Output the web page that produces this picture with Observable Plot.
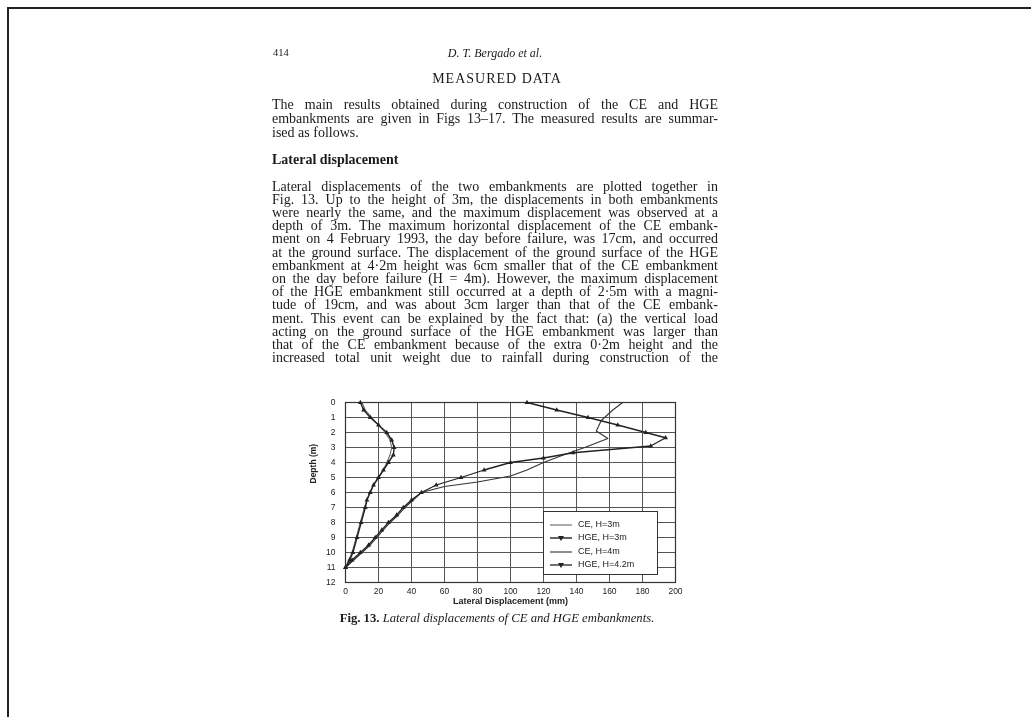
<!DOCTYPE html>
<html>
<head>
<meta charset="utf-8">
<script src="https://cdn.jsdelivr.net/npm/d3@7"></script>
<script src="https://cdn.jsdelivr.net/npm/@observablehq/plot@0.6"></script>
<style>
  html, body { margin: 0; padding: 0; background: #fff; }
  body { width: 1031px; height: 717px; position: relative; overflow: hidden; filter: blur(0.45px); }
  .page { position: absolute; left: 7px; top: 7px; width: 1100px; height: 800px;
          border-top: 2px solid #222; border-left: 2px solid #222; }
  .t { position: absolute; font-family: "Liberation Serif", "DejaVu Serif", serif; color: #1a1a1a; }
  .ln { position: absolute; left: 272px; width: 446px; height: 14px; line-height: 14px; font-size: 14px;
        text-align: justify; text-align-last: justify; white-space: nowrap; }
  .ln.last { text-align-last: left; }
  #chart { position: absolute; left: 290px; top: 390px; }
  #legend { position: absolute; left: 543px; top: 511px; width: 113px; height: 62px; background: #fff;
            border: 1px solid #333; font-family: "Liberation Sans", Arial, sans-serif; font-size: 9px; color: #222; }
  #legend .row { position: absolute; left: 6px; height: 12px; line-height: 12px; white-space: nowrap; }
  #legend svg { vertical-align: middle; margin-right: 6px; }
</style>
</head>
<body>
<div class="page"></div>
<div id="text"></div>
<div id="chart"></div>
<div id="legend"></div>
<script>
// ---- data ----
const seriesNames = ["CE, H=3m", "HGE, H=3m", "CE, H=4m", "HGE, H=4.2m"];

const depthCE3 = [0, 0.5, 1, 1.5, 2, 2.5, 3, 3.5, 4, 4.5, 5, 5.5, 6, 6.5, 7, 8, 9, 10, 10.5, 11];
const dispCE3  = [10, 12, 16, 20, 24, 27, 28, 27, 25, 23, 20, 17, 14.5, 13, 11.5, 9, 6.5, 4, 2, 0];

const depthHGE3 = [0, 0.5, 1, 1.5, 2, 2.5, 3, 3.5, 4, 4.5, 5, 5.5, 6, 6.5, 7, 8, 9, 10, 10.5, 11];
const dispHGE3  = [9, 11, 15, 20, 25, 28, 29.5, 29, 26, 23, 20, 17, 15, 13, 12, 9.5, 7, 4.5, 2.5, 0];

const depthCE4 = [0, 0.5, 1.2, 1.9, 2.4, 3, 3.5, 4, 4.5, 4.9, 5.3, 5.6, 6, 6.5, 7, 7.5, 8, 8.5, 9, 9.5, 10, 10.5, 11];
const dispCE4  = [168, 162, 155, 152, 159, 145, 132, 120, 110, 100, 80, 60, 46, 41, 36, 32, 27, 23, 19, 15, 10, 5, 0];

const depthHGE42 = [0, 0.5, 1, 1.5, 2, 2.35, 2.9, 3.35, 3.7, 4, 4.5, 5, 5.5, 6, 6.5, 7, 7.5, 8, 8.5, 9, 9.5, 10, 10.5, 11];
const dispHGE42  = [110, 128, 147, 165, 182, 194, 185, 138, 120, 100, 84, 70, 55, 46, 40, 35, 31, 26, 22, 18, 14, 9, 4, 0];

const xTicks = [0, 20, 40, 60, 80, 100, 120, 140, 160, 180, 200];
const yTicks = [0, 1, 2, 3, 4, 5, 6, 7, 8, 9, 10, 11, 12];

const xLabel = "Lateral Displacement (mm)";
const yLabel = "Depth (m)";

// ---- page text ----
const headerPage = "414";
const headerAuthor = "D. T. Bergado et al.";
const sectionTitle = "MEASURED DATA";
const para1 = [
  "The main results obtained during construction of the CE and HGE",
  "embankments are given in Figs 13–17. The measured results are summar-",
  "ised as follows."
];
const subHeading = "Lateral displacement";
const para2 = [
  "Lateral displacements of the two embankments are plotted together in",
  "Fig. 13. Up to the height of 3m, the displacements in both embankments",
  "were nearly the same, and the maximum displacement was observed at a",
  "depth of 3m. The maximum horizontal displacement of the CE embank-",
  "ment on 4 February 1993, the day before failure, was 17cm, and occurred",
  "at the ground surface. The displacement of the ground surface of the HGE",
  "embankment at 4·2m height was 6cm smaller that of the CE embankment",
  "on the day before failure (H = 4m). However, the maximum displacement",
  "of the HGE embankment still occurred at a depth of 2·5m with a magni-",
  "tude of 19cm, and was about 3cm larger than that of the CE embank-",
  "ment. This event can be explained by the fact that: (a) the vertical load",
  "acting on the ground surface of the HGE embankment was larger than",
  "that of the CE embankment because of the extra 0·2m height and the",
  "increased total unit weight due to rainfall during construction of the"
];
const captionBold = "Fig. 13.";
const captionItalic = "Lateral displacements of CE and HGE embankments.";

// ---- build text ----
const T = document.getElementById("text");
function add(html, style, cls) {
  const d = document.createElement("div");
  d.className = cls || "t";
  d.setAttribute("style", style);
  d.innerHTML = html;
  T.appendChild(d);
  return d;
}
add(headerPage, "left:273px;top:47px;font-size:10.5px;");
add("<i>" + headerAuthor + "</i>", "left:395px;width:200px;text-align:center;top:46px;font-size:12px;");
add(sectionTitle, "left:397px;width:200px;text-align:center;top:71px;font-size:14px;letter-spacing:1px;");
const p1c = [105, 119, 133];
para1.forEach((s, i) => add(s, `top:${p1c[i] - 7}px;`, "t ln" + (i === para1.length - 1 ? " last" : "")));
add("<b>" + subHeading + "</b>", "left:272px;top:152px;font-size:14px;");
para2.forEach((s, i) => add(s, `top:${(186.5 + i * 13.2 - 7).toFixed(1)}px;`, "t ln"));
add("<b>" + captionBold + "</b> <i>" + captionItalic + "</i>",
    "left:247px;width:500px;text-align:center;top:611px;font-size:12.7px;");

// ---- chart ----
function rows(depths, disps, name) { return depths.map((d, i) => ({depth: d, disp: disps[i], series: name})); }
const rCE3 = rows(depthCE3, dispCE3, seriesNames[0]);
const rHGE3 = rows(depthHGE3, dispHGE3, seriesNames[1]);
const rCE4 = rows(depthCE4, dispCE4, seriesNames[2]);
const rHGE42 = rows(depthHGE42, dispHGE42, seriesNames[3]);

const chart = Plot.plot({
  width: 420, height: 230,
  marginLeft: 55, marginTop: 12, marginRight: 35, marginBottom: 38,
  x: {domain: [0, 200], label: null},
  y: {domain: [0, 12], reverse: true, label: null},
  style: {fontFamily: "Liberation Sans, Arial, sans-serif", fontSize: "8.5px", color: "#222", background: "transparent"},
  marks: [
    Plot.gridX(xTicks, {stroke: "#555", strokeOpacity: 1, strokeWidth: 1}),
    Plot.gridY(yTicks, {stroke: "#555", strokeOpacity: 1, strokeWidth: 1}),
    Plot.frame({stroke: "#333", strokeWidth: 1.2}),
    Plot.axisX(xTicks, {tickSize: 0, tickPadding: 5}),
    Plot.axisY(yTicks, {tickSize: 0, tickPadding: 10}),
    Plot.line(rCE3, {x: "disp", y: "depth", stroke: "#666", strokeWidth: 1.1}),
    Plot.line(rHGE3, {x: "disp", y: "depth", stroke: "#222", strokeWidth: 1.4}),
    Plot.line(rCE4, {x: "disp", y: "depth", stroke: "#333", strokeWidth: 1.1}),
    Plot.line(rHGE42, {x: "disp", y: "depth", stroke: "#222", strokeWidth: 1.3}),
    Plot.dot(rHGE3, {x: "disp", y: "depth", symbol: "triangle", r: 1.8, fill: "#222"}),
    Plot.dot(rHGE42, {x: "disp", y: "depth", symbol: "triangle", r: 1.8, fill: "#222"}),
    Plot.text([xLabel], {text: d => d, frameAnchor: "bottom", dy: 21, fontSize: 9, fontWeight: 600, fill: "#222"}),
    Plot.text([yLabel], {text: d => d, frameAnchor: "left", dx: -32, dy: -9, rotate: -90, fontSize: 8.5, fontWeight: 600, fill: "#222"})
  ]
});
document.getElementById("chart").appendChild(chart);

// ---- legend ----
const L = document.getElementById("legend");
const legendStyles = [
  {stroke: "#666", w: 1.1, marker: false},
  {stroke: "#222", w: 1.4, marker: true},
  {stroke: "#333", w: 1.1, marker: false},
  {stroke: "#222", w: 1.3, marker: true}
];
const legendTops = [6, 19, 33, 46];
seriesNames.forEach((name, i) => {
  const s = legendStyles[i];
  const row = document.createElement("div");
  row.className = "row";
  row.style.top = legendTops[i] + "px";
  row.innerHTML = `<svg width="22" height="8"><line x1="0" y1="4" x2="22" y2="4" stroke="${s.stroke}" stroke-width="${s.w}"/>` +
    (s.marker ? `<path d="M8,2 L14,2 L11,7 Z" fill="#222"/>` : "") + `</svg>${name}`;
  L.appendChild(row);
});
</script>
</body>
</html>
